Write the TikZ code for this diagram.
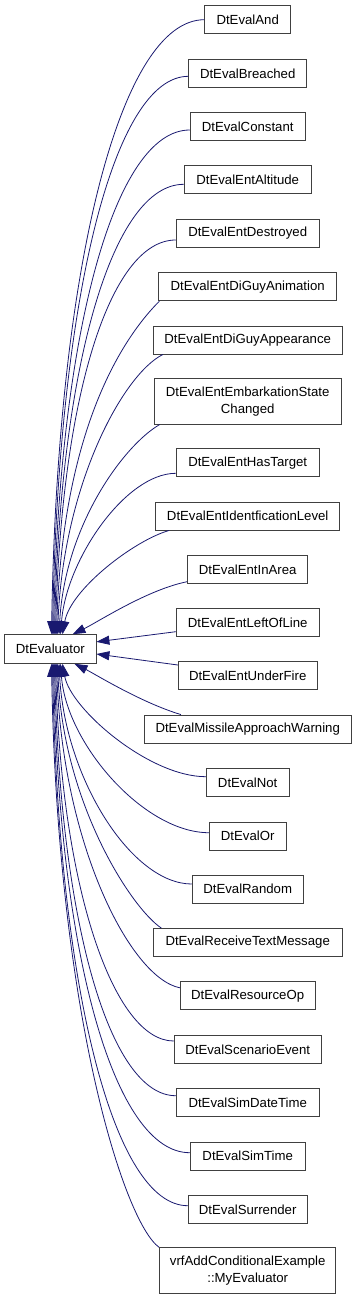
\documentclass[tikz,border=0pt]{standalone}
\usepackage{fontspec}
\setmainfont{Liberation Sans}
\usetikzlibrary{arrows.meta,calc}
\definecolor{edgeblue}{HTML}{191970}
\definecolor{boxgray}{HTML}{404040}
\begin{document}
\begin{tikzpicture}[x=1pt,y=-1pt,
  cls/.style={draw=boxgray, line width=0.9pt, fill=white, rectangle, inner sep=0pt,
    minimum height=28pt, align=center, font=\fontsize{13.2}{16.7}\selectfont},
  cls2/.style={cls, minimum height=45.5pt},
  edge/.style={draw=edgeblue, line width=0.8pt, -{Triangle[length=13pt,width=9pt]}}]
\useasboundingbox (0,0) rectangle (357,1299);
\fill[white] (0,0) rectangle (357,1299);

\node[cls, minimum width=91.3pt, minimum height=28.6pt] (ev) at (50.3,649) {DtEvaluator};

\node[cls, minimum width=85.7pt]  (n1)  at (247.7,19.7)  {DtEvalAnd};
\node[cls, minimum width=117.7pt] (n2)  at (247.7,73.3)  {DtEvalBreached};
\node[cls, minimum width=115pt]   (n3)  at (247.7,126.5) {DtEvalConstant};
\node[cls, minimum width=127pt]   (n4)  at (247.7,179.7) {DtEvalEntAltitude};
\node[cls, minimum width=143pt]   (n5)  at (247.7,233)   {DtEvalEntDestroyed};
\node[cls, minimum width=177.7pt] (n6)  at (247.7,286.7) {DtEvalEntDiGuyAnimation};
\node[cls, minimum width=188.7pt] (n7)  at (247.7,340)   {DtEvalEntDiGuyAppearance};
\node[cls2, minimum width=187pt]  (n8)  at (247.7,401.3) {DtEvalEntEmbarkationState\\Changed};
\node[cls, minimum width=143pt]   (n9)  at (247.7,462.7) {DtEvalEntHasTarget};
\node[cls, minimum width=184.3pt] (n10) at (247.7,516)   {DtEvalEntIdentficationLevel};
\node[cls, minimum width=120.3pt] (n11) at (247.7,569.3) {DtEvalEntInArea};
\node[cls, minimum width=143pt]   (n12) at (247.7,622.7) {DtEvalEntLeftOfLine};
\node[cls, minimum width=138.7pt] (n13) at (247.7,675.7) {DtEvalEntUnderFire};
\node[cls, minimum width=206.7pt] (n14) at (247.7,729)   {DtEvalMissileApproachWarning};
\node[cls, minimum width=82.7pt]  (n15) at (247.7,782.3) {DtEvalNot};
\node[cls, minimum width=76.7pt]  (n16) at (247.7,836)   {DtEvalOr};
\node[cls, minimum width=111pt]   (n17) at (247.7,889)   {DtEvalRandom};
\node[cls, minimum width=189.3pt] (n18) at (247.7,942.5) {DtEvalReceiveTextMessage};
\node[cls, minimum width=134.7pt] (n19) at (247.7,995.8) {DtEvalResourceOp};
\node[cls, minimum width=147pt]   (n20) at (247.7,1049.3){DtEvalScenarioEvent};
\node[cls, minimum width=143pt]   (n21) at (247.7,1102.7){DtEvalSimDateTime};
\node[cls, minimum width=115pt]   (n22) at (247.7,1156)  {DtEvalSimTime};
\node[cls, minimum width=119pt]   (n23) at (247.7,1209.3){DtEvalSurrender};
\node[cls2, minimum width=176.3pt](n24) at (247.7,1270.5){vrfAddConditionalExample\\::MyEvaluator};

\draw[edge] (n1.west) .. controls +(-84,0) and +(6,-369) .. ([xshift=47.3pt]ev.north west);
\draw[edge] ([yshift=-3pt]n2.west) .. controls +(-75,0) and +(6,-335) .. ([xshift=48.3pt]ev.north west);
\draw[edge] ([yshift=-3.5pt]n3.west) .. controls +(-75,0) and +(6,-303) .. ([xshift=49.3pt]ev.north west);
\draw[edge] ([yshift=-4.6pt]n4.west) .. controls +(-71,0) and +(6,-270) .. ([xshift=50.3pt]ev.north west);
\draw[edge] ([yshift=-7pt]n5.west) .. controls +(-66,0) and +(6,-237) .. ([xshift=51.3pt]ev.north west);
\draw[edge] ([xshift=1pt]n6.south west) .. controls +(-40,40) and +(6,-200) .. ([xshift=52.3pt]ev.north west);
\draw[edge] ([xshift=10pt]n7.south west) .. controls +(-40,20) and +(6,-150) .. ([xshift=53.3pt]ev.north west);
\draw[edge] ([xshift=6pt]n8.south west) .. controls +(-35,20) and +(6,-110) .. ([xshift=54.8pt]ev.north west);
\draw[edge] ([yshift=-10.6pt]n9.west) .. controls +(-50,0) and +(6,-75) .. ([xshift=56.3pt]ev.north west);
\draw[edge] ([xshift=14pt]n10.south west) .. controls +(-35,10) and +(8,-45) .. ([xshift=58.3pt]ev.north west);
\draw[edge] ([yshift=-12.4pt]n11.west) .. controls +(-40,8) and +(25,-12) .. ([xshift=68.3pt]ev.north west);
\draw[edge] ([yshift=-9pt]n12.west) -- ([yshift=-7.6pt]ev.north east);
\draw[edge] ([yshift=10.7pt]n13.west) -- ([yshift=-5pt]ev.east);
\draw[edge] ([xshift=37pt]n14.north west) .. controls +(-40,-12) and +(20,10) .. ([xshift=70.3pt]ev.south west);
\draw[edge] ([yshift=5.6pt]n15.west) .. controls +(-57,0) and +(8,45) .. ([xshift=58.3pt]ev.south west);
\draw[edge] ([yshift=3.3pt]n16.west) .. controls +(-65,0) and +(6,80) .. ([xshift=56.3pt]ev.south west);
\draw[edge] ([yshift=5pt]n17.west) .. controls +(-60,0) and +(6,115) .. ([xshift=54.8pt]ev.south west);
\draw[edge] ([xshift=8.7pt]n18.north west) .. controls +(-30,-20) and +(6,140) .. ([xshift=53.3pt]ev.south west);
\draw[edge] ([yshift=8pt]n19.west) .. controls +(-50,-10) and +(6,180) .. ([xshift=52.3pt]ev.south west);
\draw[edge] ([yshift=8.3pt]n20.west) .. controls +(-60,0) and +(6,225) .. ([xshift=51.3pt]ev.south west);
\draw[edge] ([yshift=7pt]n21.west) .. controls +(-66,0) and +(6,260) .. ([xshift=50.3pt]ev.south west);
\draw[edge] ([yshift=3.3pt]n22.west) .. controls +(-75,0) and +(6,294) .. ([xshift=49.3pt]ev.south west);
\draw[edge] ([yshift=3.6pt]n23.west) .. controls +(-74,0) and +(6,325) .. ([xshift=48.3pt]ev.south west);
\draw[edge] (n24.north west) .. controls +(-35,-25) and +(6,350) .. ([xshift=47.3pt]ev.south west);
\end{tikzpicture}
\end{document}
